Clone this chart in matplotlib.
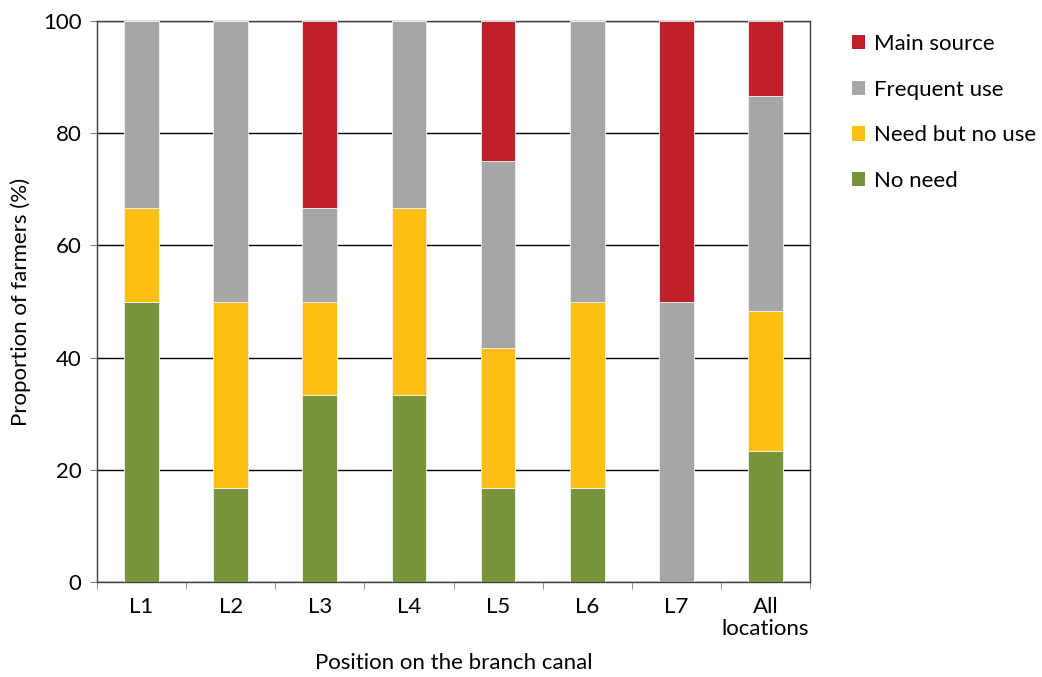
import numpy as np
import matplotlib.pyplot as plt
from matplotlib.patches import Patch

# Data (percent of farmers)
locations = ["L1", "L2", "L3", "L4", "L5", "L6", "L7", "All\nlocations"]
no_need = [50.0, 16.7, 33.3, 33.3, 16.7, 16.7, 0.0, 23.3]
need_no_use = [16.7, 33.3, 16.7, 33.3, 25.0, 33.3, 0.0, 25.0]
frequent_use = [33.3, 50.0, 16.7, 33.4, 33.3, 50.0, 50.0, 38.4]
main_source = [0.0, 0.0, 33.3, 0.0, 25.0, 0.0, 50.0, 13.3]

series_names = ["No need", "Need but no use", "Frequent use", "Main source"]
series_colors = ["#77933C", "#FDBF12", "#A6A6A6", "#C0202A"]

plt.rcParams['font.family'] = ['Lato', 'DejaVu Sans']
FS = 16

fig = plt.figure(figsize=(10.42, 6.77), dpi=100)
ax = fig.add_axes([0.0931, 0.1403, 0.6843, 0.8287])

x = np.arange(len(locations))
bottom = np.zeros(len(locations))
for vals, name, col in zip([no_need, need_no_use, frequent_use, main_source],
                           series_names, series_colors):
    ax.bar(x, vals, width=0.39, bottom=bottom, color=col, label=name,
           edgecolor="#F2F2F2", linewidth=0.6, zorder=3)
    bottom += np.array(vals)

ax.set_xlim(-0.5, len(locations) - 0.5)
ax.set_ylim(0, 100)
ax.set_yticks([0, 20, 40, 60, 80, 100])
ax.yaxis.grid(True, color="black", linewidth=1.0, zorder=0)
ax.set_axisbelow(True)

# category labels centered, ticks on the boundaries
ax.set_xticks(x)
ax.set_xticklabels(locations, fontsize=FS, linespacing=1.1)
ax.tick_params(axis="x", length=0, pad=11)
ax.set_xticks(np.arange(len(locations) + 1) - 0.5, minor=True)
ax.tick_params(axis="x", which="minor", length=5, direction="out", color="#808080")
ax.tick_params(axis="y", labelsize=FS, length=5, direction="out", color="#808080", pad=6)

for s in ax.spines.values():
    s.set_color("#404040")
    s.set_linewidth(1.0)

ax.set_ylabel("Proportion of farmers (%)", fontsize=FS, labelpad=9)
ax.set_xlabel("Position on the branch canal", fontsize=FS, labelpad=10)

handles = [Patch(facecolor=c, label=n) for n, c in zip(series_names, series_colors)][::-1]
fig.legend(handles=handles, loc="upper left", bbox_to_anchor=(0.798, 0.979),
           frameon=False, fontsize=FS, handlelength=0.6, handleheight=0.6,
           handletextpad=0.4, labelspacing=1.15)

fig.savefig("out.png", dpi=100)
